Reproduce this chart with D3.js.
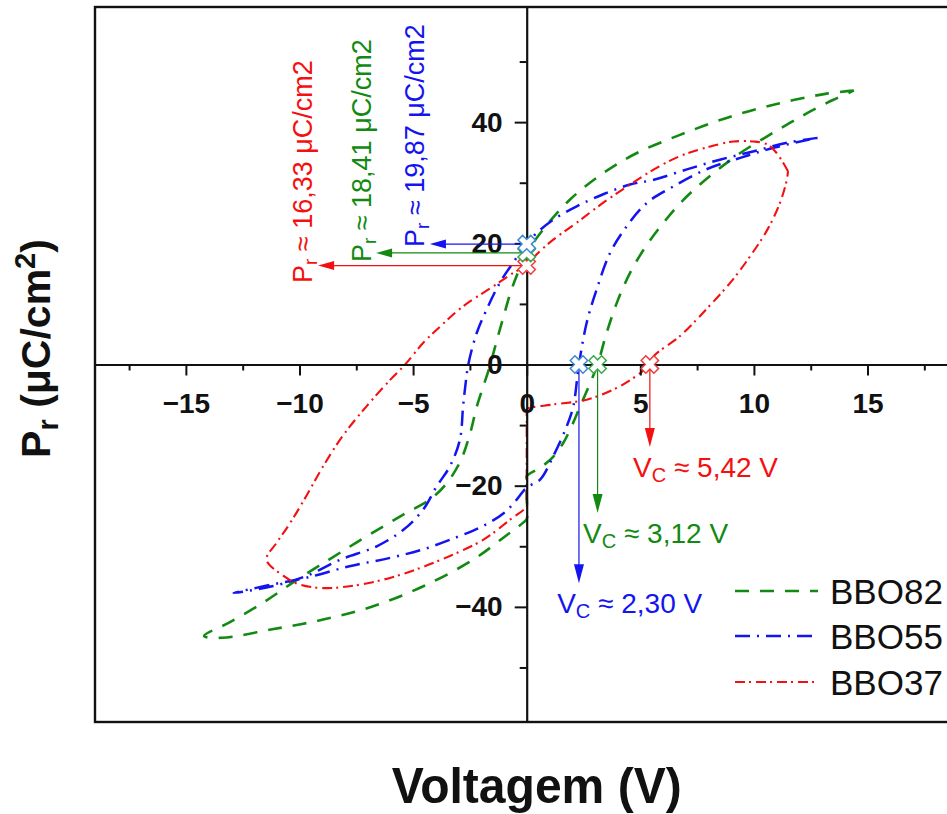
<!DOCTYPE html>
<html>
<head>
<meta charset="utf-8">
<script src="https://cdn.jsdelivr.net/npm/d3@7"></script>
<style>
  html, body { margin: 0; padding: 0; background: #fff; overflow: hidden; }
  svg { display: block; font-family: "Liberation Sans", Arial, Helvetica, sans-serif; }
</style>
</head>
<body>
<svg id="chart" width="947" height="814"></svg>
<script>
// P–V hysteresis loops of three BBO compositions

const seriesNames = ["BBO82", "BBO55", "BBO37"];

// BBO82: falling branch from +Vmax, then rising branch back
const bbo82V = [14.4, 13.2, 11.0, 8.8, 6.75, 4.85, 3.37, 1.9, 0.73, 0, -0.35, -0.7, -1.05, -1.35, -1.6, -1.9, -2.2, -2.5, -2.9, -3.5, -4.26, -5.3, -6.3, -7.5, -8.7, -10.1, -11.6, -13.1, -14.2,
                -13.4, -11.2, -8.96, -6.76, -4.55, -2.35, -1.0, -0.15, 0, 0, 0, 0, 0.6, 1.1, 1.6, 2.0, 2.4, 2.8, 3.12, 3.5, 4.0, 4.6, 5.3, 6.0, 6.75, 7.5, 8.4, 9.4, 10.6, 11.6, 12.5, 13.5, 14.4];
const bbo82P = [45.2, 44.7, 43.0, 40.7, 37.9, 34.9, 31.6, 27.2, 22.3, 18.41, 15.5, 12.0, 7.5, 3.5, 0, -3.5, -7.0, -11.5, -15.8, -19.5, -22.3, -24.5, -26.7, -29.4, -32.2, -35.5, -39.3, -42.6, -44.8,
                -45.1, -43.7, -42.1, -39.9, -36.6, -32.2, -28.5, -26.1, -25.5, -22.0, -18.9, -18.4, -17.0, -15.5, -13.0, -10.0, -6.5, -3.0, 0, 5.0, 10.5, 15.5, 19.8, 23.3, 26.6, 29.3, 32.1, 34.9, 37.7, 39.9, 41.8, 43.7, 45.2];

// BBO55
const bbo55V = [12.8, 11.45, 10.0, 8.5, 7.05, 5.6, 4.55, 3.37, 2.2, 1.17, 0.44, 0, -0.6, -1.18, -1.76, -2.2, -2.57, -2.7, -2.8, -2.94, -3.38, -3.96, -4.55, -5.4, -6.6, -8.2, -9.7, -11.2, -12.9,
                -11.2, -9.7, -7.8, -6.0, -4.55, -3.08, -2.0, -1.0, -0.44, 0, 0.59, 1.17, 1.76, 2.05, 2.3, 2.64, 3.08, 3.67, 4.4, 5.3, 6.46, 7.9, 9.4, 10.9, 12.8];
const bbo55P = [37.4, 36.6, 35.2, 33.8, 32.2, 30.5, 29.7, 28.1, 26.1, 23.9, 21.7, 19.87, 16.8, 13.5, 9.1, 5.2, 0, -3.5, -6.9, -12.4, -16.8, -20.1, -23.9, -27.2, -30.0, -32.2, -34.9, -36.6, -37.7,
                -36.3, -35.2, -33.3, -31.9, -30.5, -28.5, -26.8, -24.5, -22.3, -20.3, -19.0, -15.1, -10.2, -6.9, 0, 6.9, 12.4, 18.4, 22.8, 26.7, 29.4, 32.2, 34.1, 35.8, 37.4];

// BBO37
const bbo37V = [11.5, 11.0, 10.6, 10.0, 9.1, 7.9, 6.75, 5.6, 4.55, 3.37, 2.2, 1.17, 0.44, 0, -0.6, -1.47, -2.8, -3.8, -4.55, -5.35, -6.0, -7.05, -8.1, -8.96, -9.7, -10.4, -11.0, -11.45,
                -10.7, -10.0, -8.96, -7.8, -6.3, -4.85, -3.38, -1.9, -0.73, 0, 0, 0, 0, 0, 1.17, 2.64, 4.1, 5.0, 5.42, 5.6, 6.75, 7.9, 8.96, 9.84, 10.6, 11.15, 11.45, 11.5];
const bbo37P = [31.9, 34.9, 36.3, 36.8, 36.8, 35.8, 34.4, 32.2, 29.7, 26.7, 23.4, 20.6, 18.2, 16.33, 15.1, 12.9, 9.6, 6.3, 3.6, 0, -2.5, -6.9, -11.8, -16.8, -21.7, -26.1, -29.4, -32.2,
                -34.9, -36.3, -36.9, -36.6, -35.5, -33.8, -31.6, -28.9, -25.6, -23.4, -22.7, -15.4, -8.0, -7.4, -6.6, -5.8, -3.6, -1.4, 0, 1.4, 4.7, 9.1, 13.5, 17.9, 22.3, 26.7, 30.5, 31.9];

// Remanent polarization and coercive voltage, same order as seriesNames
const remanentP = [18.41, 19.87, 16.33];
const remanentText = ["18,41", "19,87", "16,33"];
const coerciveV = [3.12, 2.30, 5.42];
const coerciveText = ["3,12", "2,30", "5,42"];

// Annotation arrow ends and label anchors (data units)
const prArrowTipV = [-6.63, -4.26, -9.18];
const prLabelV = [-6.85, -4.52, -9.45];
const prLabelP = [16.9, 19.4, 13.45];
const vcArrowTipP = [-24.5, -36.1, -13.6];
const vcLabelV = [2.48, 1.34, 4.68];
const vcLabelP = [-29.46, -41.0, -18.57];

// Axis ticks
const xTicks = [-15, -10, -5, 0, 5, 10, 15];
const xMinorTicks = [-17.5, -12.5, -7.5, -2.5, 2.5, 7.5, 12.5, 17.5];
const yTicks = [-40, -20, 0, 20, 40];
const yMinorTicks = [-50, -30, -10, 10, 30, 50];

const lineColors = ["#128a12", "#1414f0", "#f41010"];
const markColors = ["#3aa84a", "#3c88d2", "#ee3a3a"];
const dashes = ["14,11", "15,7,2,7", "10,4,2,5"];
const widths = [2.6, 2.5, 2.1];

const svg = d3.select("#chart");
const x = d3.scaleLinear().domain([-19, 19]).range([95, 958.4]);
const y = d3.scaleLinear().domain([-59, 59]).range([722, 7]);

const series = [
  d3.zip(bbo82V, bbo82P),
  d3.zip(bbo55V, bbo55P),
  d3.zip(bbo37V, bbo37P)
];

// Plot frame
svg.append("rect")
  .attr("x", x(-19)).attr("y", y(59))
  .attr("width", x(19) - x(-19)).attr("height", y(-59) - y(59))
  .attr("fill", "none").attr("stroke", "#111").attr("stroke-width", 2.4);

// Loops
const line = d3.line()
  .x(d => x(d[0])).y(d => y(d[1]))
  .curve(d3.curveCatmullRom.alpha(0.5));

svg.append("g").selectAll("path").data(series).join("path")
  .attr("d", line)
  .attr("fill", "none")
  .attr("stroke", (d, i) => lineColors[i])
  .attr("stroke-width", (d, i) => widths[i])
  .attr("stroke-dasharray", (d, i) => dashes[i]);

// Axes crossing at the origin
const tickFont = "bold 28px 'Liberation Sans', Arial, sans-serif";

svg.append("g").attr("transform", `translate(0,${y(0)})`)
  .call(d3.axisBottom(x).tickValues(xTicks).tickSize(11).tickSizeOuter(0).tickPadding(17.5).tickFormat(d3.format("d")));
svg.append("g").attr("transform", `translate(0,${y(0)})`)
  .call(d3.axisBottom(x).tickValues(xMinorTicks).tickSize(6).tickSizeOuter(0).tickFormat(""))
  .call(g => g.select(".domain").remove());

svg.append("g").attr("transform", `translate(${x(0)},0)`)
  .call(d3.axisLeft(y).tickValues(yTicks).tickSize(12).tickSizeOuter(0).tickPadding(12).tickFormat(d3.format("d")));
svg.append("g").attr("transform", `translate(${x(0)},0)`)
  .call(d3.axisLeft(y).tickValues(yMinorTicks).tickSize(7).tickSizeOuter(0).tickFormat(""))
  .call(g => g.select(".domain").remove());

svg.selectAll(".domain").attr("stroke", "#111").attr("stroke-width", 2.2);
svg.selectAll(".tick line").attr("stroke", "#111").attr("stroke-width", 2);
svg.selectAll(".tick text").style("font", tickFont).attr("fill", "#111");

// Arrows
function arrowHead(tx, ty, dx, dy, len, half) {
  const bx = tx - dx * len, by = ty - dy * len;
  const px = -dy * half, py = dx * half;
  return `M${tx},${ty}L${bx + px},${by + py}L${bx - px},${by - py}Z`;
}

const ann = svg.append("g");
seriesNames.forEach((name, i) => {
  // remanent polarization arrow (horizontal, pointing left)
  const y0 = y(remanentP[i]);
  const tipX = x(prArrowTipV[i]);
  ann.append("line")
    .attr("x1", x(0)).attr("y1", y0).attr("x2", tipX + 12).attr("y2", y0)
    .attr("stroke", lineColors[i]).attr("stroke-width", 1.2);
  ann.append("path").attr("d", arrowHead(tipX, y0, -1, 0, 16, 4.5)).attr("fill", lineColors[i]);

  // coercive voltage arrow (vertical, pointing down)
  const x0 = x(coerciveV[i]);
  const tipY = y(vcArrowTipP[i]);
  ann.append("line")
    .attr("x1", x0).attr("y1", y(0)).attr("x2", x0).attr("y2", tipY - 14)
    .attr("stroke", lineColors[i]).attr("stroke-width", 1.2);
  ann.append("path").attr("d", arrowHead(x0, tipY, 0, 1, 19, 5)).attr("fill", lineColors[i]);
});

// Hollow cross markers at Pr and Vc
function crossPath(cx, cy) {
  const a = 9, t = 3.3, c = Math.SQRT1_2;
  const pts = [[-t, -a], [t, -a], [t, -t], [a, -t], [a, t], [t, t], [t, a], [-t, a], [-t, t], [-a, t], [-a, -t], [-t, -t]];
  return "M" + pts.map(([px, py]) => [cx + (px - py) * c, cy + (px + py) * c].join(",")).join("L") + "Z";
}
const markerOrder = [2, 0, 1];
markerOrder.forEach(i => {
  ann.append("path").attr("d", crossPath(x(0), y(remanentP[i])))
    .attr("fill", "#fff").attr("stroke", markColors[i]).attr("stroke-width", 1.5);
});
markerOrder.forEach(i => {
  ann.append("path").attr("d", crossPath(x(coerciveV[i]), y(0)))
    .attr("fill", "#fff").attr("stroke", markColors[i]).attr("stroke-width", 1.5);
});

// Pr labels (rotated)
seriesNames.forEach((name, i) => {
  const t = ann.append("text")
    .attr("transform", `translate(${x(prLabelV[i])},${y(prLabelP[i])}) rotate(-90)`)
    .attr("fill", lineColors[i])
    .style("font-size", "27px");
  t.append("tspan").text("P");
  t.append("tspan").attr("dy", 5).style("font-size", "19px").text("r");
  t.append("tspan").attr("dy", -5).text(` \u2248 ${remanentText[i]} \u03bcC/cm2`);
});

// Vc labels
seriesNames.forEach((name, i) => {
  const t = ann.append("text")
    .attr("x", x(vcLabelV[i])).attr("y", y(vcLabelP[i]))
    .attr("fill", lineColors[i])
    .style("font-size", "28px");
  t.append("tspan").text("V");
  t.append("tspan").attr("dy", 5).style("font-size", "20px").text("C");
  t.append("tspan").attr("dy", -5).text(` \u2248 ${coerciveText[i]} V`);
});

// Legend
const legendRows = [591, 636, 682];
const legend = svg.append("g");
seriesNames.forEach((name, i) => {
  legend.append("line")
    .attr("x1", 735).attr("x2", 818).attr("y1", legendRows[i]).attr("y2", legendRows[i])
    .attr("stroke", lineColors[i]).attr("stroke-width", widths[i])
    .attr("stroke-dasharray", dashes[i]);
  legend.append("text")
    .attr("x", 830).attr("y", legendRows[i] + 12.5)
    .style("font-size", "35px").attr("fill", "#111")
    .text(name);
});

// Axis titles
svg.append("text")
  .attr("x", 536.7).attr("y", 803)
  .attr("text-anchor", "middle")
  .attr("textLength", 290).attr("lengthAdjust", "spacingAndGlyphs")
  .style("font", "bold 50px 'Liberation Sans', Arial, sans-serif")
  .attr("fill", "#111")
  .text("Voltagem (V)");

const yTitle = svg.append("text")
  .attr("transform", "translate(50,348.5) rotate(-90)")
  .attr("text-anchor", "middle")
  .style("font", "bold 41px 'Liberation Sans', Arial, sans-serif")
  .attr("fill", "#111");
yTitle.append("tspan").text("P");
yTitle.append("tspan").attr("dy", 8).style("font-size", "29px").text("r");
yTitle.append("tspan").attr("dy", -8).text(" (\u03bcC/cm");
yTitle.append("tspan").attr("dy", -15).style("font-size", "29px").text("2");
yTitle.append("tspan").attr("dy", 15).text(")");
</script>
</body>
</html>
